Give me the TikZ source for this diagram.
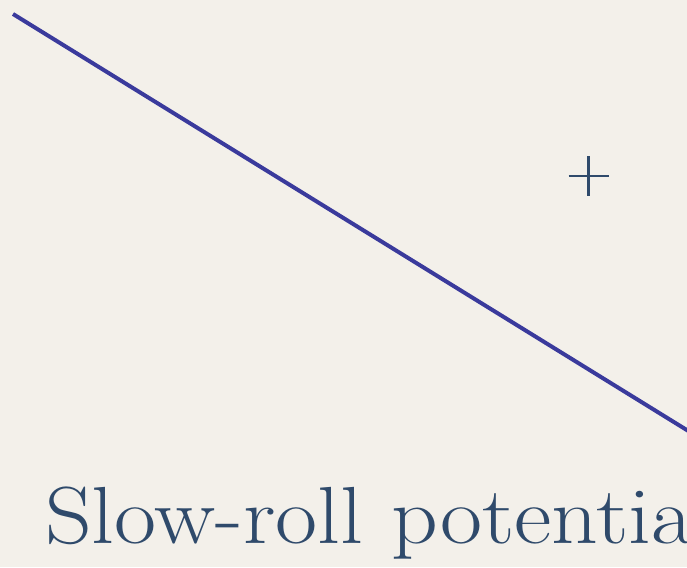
\documentclass[tikz,border=0pt]{standalone}
\usepackage{tikz}
\usetikzlibrary{positioning, calc}

\definecolor{paper}{HTML}{F3F0EA}
\definecolor{slope}{HTML}{3A3A9C}
\definecolor{ink}{HTML}{2F4A6B}

\begin{document}
\begin{tikzpicture}[
    x=1pt, y=1pt,
    potline/.style={draw=slope, line width=4pt},
    crossline/.style={draw=ink, line width=2.4pt},
    caption/.style={text=ink, font=\fontsize{81}{90}\selectfont, inner sep=0pt, xscale=1.13}
]
    \fill[paper] (0,0) rectangle (687,567);
    \clip (0,0) rectangle (687,567);

    \coordinate (top) at (13,553);
    \coordinate (bottom) at (690,135);
    \draw[potline] (top) -- (bottom);

    % the small cross
    \coordinate (cross) at (588.5,391);
    \draw[crossline] ($(cross)+(-20,0)$) -- ($(cross)+(20,0)$);
    \draw[crossline] ($(cross)+(0,-20)$) -- ($(cross)+(0,20)$);

    \node[caption, anchor=base west] (title) at (45,24) {Slow-roll potential};
\end{tikzpicture}
\end{document}
